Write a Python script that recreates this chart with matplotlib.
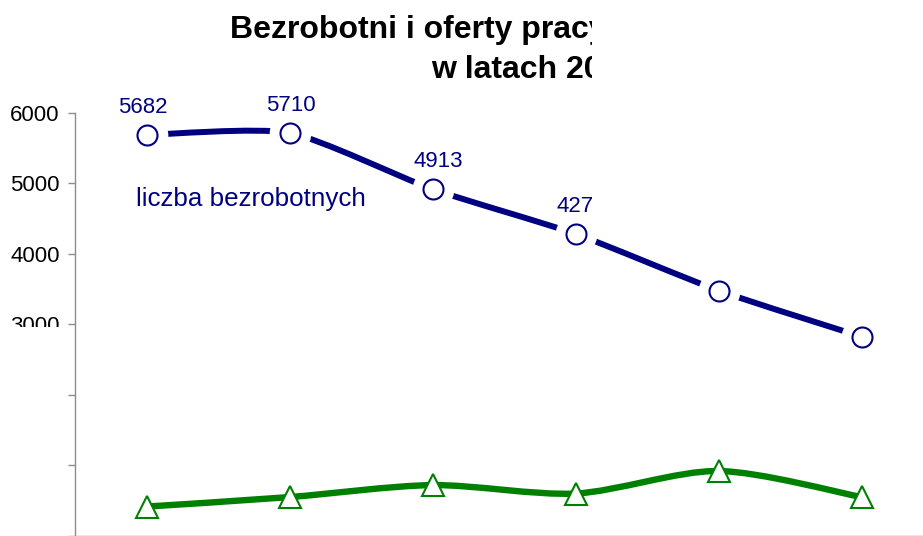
import matplotlib
matplotlib.use("Agg")
import matplotlib.pyplot as plt
from matplotlib.path import Path
from matplotlib.patches import PathPatch
from matplotlib.transforms import Bbox

plt.rcParams['font.family'] = ['Liberation Sans', 'DejaVu Sans']

# dane
lata = ['2000', '2001', '2002', '2003', '2004', '2005']
bezrobotni = [5682, 5710, 4913, 4278, 3475, 2820]
oferty = [410, 545, 715, 595, 915, 545]
y_ticks = [0, 1000, 2000, 3000, 4000, 5000, 6000]
y_tick_labels = ['', '', '', '3000', '4000', '5000', '6000']

tytul_1 = 'Bezrobotni i oferty pracy'
tytul_2 = 'w latach 2000-2005'
nazwa_serii = 'liczba bezrobotnych'

NAVY = '#000080'
GREEN = '#008000'
GRAY = '#8c8c8c'

W, H = 923, 536

# przesuniecie etykiet danych w poziomie (pt)
label_dx = [-3, 1, 4, 4, 0, 0]


def smooth_path(xs, ys, k=7.0):
    # wygladzona linia jak w Excelu (krzywe Beziera przez punkty)
    pts = list(zip(xs, ys))
    n = len(pts)
    verts = [pts[0]]
    codes = [Path.MOVETO]
    for i in range(n - 1):
        p0 = pts[max(i - 1, 0)]
        p1 = pts[i]
        p2 = pts[i + 1]
        p3 = pts[min(i + 2, n - 1)]
        c1 = (p1[0] + (p2[0] - p0[0]) / k, p1[1] + (p2[1] - p0[1]) / k)
        c2 = (p2[0] - (p3[0] - p1[0]) / k, p2[1] - (p3[1] - p1[1]) / k)
        verts += [c1, c2, p2]
        codes += [Path.CURVE4] * 3
    return Path(verts, codes)


fig = plt.figure(figsize=(W / 100, H / 100), dpi=100)
ax = fig.add_axes([75 / W, 0.5 / H, 858 / W, 423 / H])

# tekst widoczny tylko w lewym gornym obszarze
clip = Bbox.from_bounds(0, H - 327, 592, 327)

x = list(range(len(lata)))

ax.add_patch(PathPatch(smooth_path(x, bezrobotni, k=9.0), fill=False, edgecolor=NAVY,
                       lw=4.3, capstyle='butt', zorder=2))
ax.plot(x, bezrobotni, 'o', ms=30, mfc='white', mec='none', zorder=3)
ax.plot(x, bezrobotni, 'o', ms=14.4, mfc='white', mec=NAVY, mew=1.5, zorder=4)

ax.add_patch(PathPatch(smooth_path(x, oferty), fill=False, edgecolor=GREEN,
                       lw=4.6, capstyle='butt', zorder=2))
ax.plot(x, oferty, '^', ms=16.5, mfc='white', mec=GREEN, mew=1.5, zorder=4)

for i, v in enumerate(bezrobotni):
    t = ax.annotate(str(v), (i, v), xytext=(label_dx[i], 16), textcoords='offset points',
                    ha='center', va='baseline', color=NAVY, fontsize=16, zorder=5,
                    annotation_clip=False)
    t.set_clip_box(clip)

ax.set_xlim(-0.5, len(lata) - 0.5)
ax.set_ylim(0, 6000)
ax.set_yticks(y_ticks)
ax.set_yticklabels(y_tick_labels)
ax.set_xticks([i - 0.5 for i in range(len(lata) + 1)])
ax.set_xticklabels([])
ax.tick_params(axis='y', length=5, width=1, color=GRAY, pad=6, labelsize=16)
ax.tick_params(axis='x', length=5, width=1, color=GRAY)
for s in ['top', 'right']:
    ax.spines[s].set_visible(False)
for s in ['left', 'bottom']:
    ax.spines[s].set_color(GRAY)
    ax.spines[s].set_linewidth(1)

for lab in ax.get_yticklabels():
    lab.set_clip_box(clip)

t1 = fig.text(230 / W, (H - 38) / H, tytul_1, fontsize=23.0, fontweight='bold',
              va='baseline', ha='left')
t2 = fig.text(431 / W, (H - 78) / H, tytul_2, fontsize=23.0, fontweight='bold',
              va='baseline', ha='left')
t3 = fig.text(136 / W, (H - 206) / H, nazwa_serii, fontsize=18.7, color=NAVY,
              va='baseline', ha='left')
for t in (t1, t2, t3):
    t.set_clip_box(clip)

fig.savefig('out.png', dpi=100)
